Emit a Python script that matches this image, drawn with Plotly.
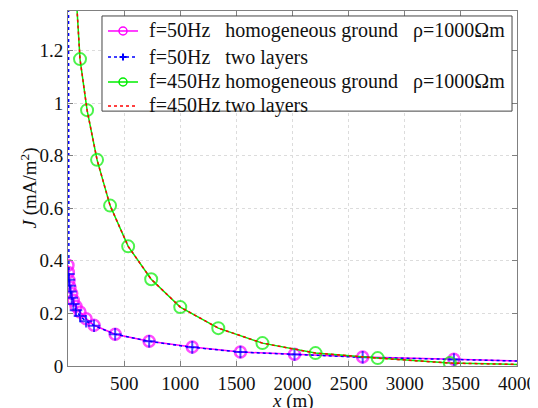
import plotly.graph_objects as go

# 50 Hz, homogeneous ground
x_50_hom = [0, 3, 9, 18, 33, 47, 71, 107, 161, 232, 420, 723, 1107, 1536, 2018, 2625, 3438, 4000]
y_50_hom = [0.383, 0.356, 0.326, 0.300, 0.276, 0.250, 0.227, 0.205, 0.180, 0.155, 0.121, 0.094, 0.072, 0.053, 0.045, 0.034, 0.026, 0.019]

# 50 Hz, two layers
x_50_two = [0, 3, 8, 14, 22, 33, 48, 71, 107, 161, 232, 420, 723, 1107, 1536, 2018, 2625, 3438, 4000]
y_50_two = [3.0, 0.350, 0.328, 0.305, 0.283, 0.260, 0.236, 0.212, 0.190, 0.170, 0.153, 0.121, 0.094, 0.071, 0.053, 0.044, 0.033, 0.025, 0.019]

# 450 Hz, homogeneous ground
x_450_hom = [60, 107, 170, 259, 375, 536, 741, 1000, 1339, 1732, 2205, 2759, 3402, 4000]
y_450_hom = [1.50, 1.167, 0.973, 0.784, 0.610, 0.455, 0.330, 0.224, 0.144, 0.087, 0.049, 0.030, 0.011, 0.006]

# 450 Hz, two layers
x_450_two = [60, 107, 170, 259, 375, 536, 741, 1000, 1339, 1732, 2205, 2759, 3402, 4000]
y_450_two = [1.50, 1.167, 0.973, 0.784, 0.610, 0.455, 0.330, 0.224, 0.144, 0.087, 0.049, 0.030, 0.011, 0.006]

x_ticks = [500, 1000, 1500, 2000, 2500, 3000, 3500, 4000]
y_ticks = [0, 0.2, 0.4, 0.6, 0.8, 1.0, 1.2]
y_tick_text = ["0", "0.2", "0.4", "0.6", "0.8", "1", "1.2"]

names = [
    "f=50Hz\u00a0\u00a0\u00a0homogeneous ground\u00a0\u00a0\u00a0\u03c1=1000\u03a9m",
    "f=50Hz\u00a0\u00a0\u00a0two layers",
    "f=450Hz\u00a0homogeneous ground\u00a0\u00a0\u00a0\u03c1=1000\u03a9m",
    "f=450Hz\u00a0two layers",
]

MAGENTA, BLUE, GREEN, RED = "#FF00FF", "#0000FF", "#00EE00", "#FF0000"
font_family = "Liberation Serif"

def sizes(n, s):
    return [s] * (n - 1) + [0]

fig = go.Figure()
fig.add_trace(go.Scatter(
    x=x_50_hom, y=y_50_hom, name=names[0], mode="lines+markers",
    line=dict(color=MAGENTA, width=1.5),
    marker=dict(symbol="circle-open", size=sizes(len(x_50_hom), 11), color=MAGENTA, line=dict(width=2.5)),
))
fig.add_trace(go.Scatter(
    x=x_50_two, y=y_50_two, name=names[1], mode="lines+markers",
    line=dict(color=BLUE, width=1.5, dash="dot"),
    marker=dict(symbol="cross-thin-open", size=sizes(len(x_50_two), 9), color=BLUE, line=dict(width=2, color=BLUE)),
))
fig.add_trace(go.Scatter(
    x=x_450_hom, y=y_450_hom, name=names[2], mode="lines+markers",
    line=dict(color=GREEN, width=1.5),
    marker=dict(symbol="circle-open", size=sizes(len(x_450_hom), 12), color=GREEN, line=dict(width=2)),
))
fig.add_trace(go.Scatter(
    x=x_450_two, y=y_450_two, name=names[3], mode="lines",
    line=dict(color=RED, width=1.5, dash="dot"),
))

# ---- legend drawn as a boxed key (paper coordinates) ----
shapes = [dict(type="rect", xref="paper", yref="paper", x0=0.0757, x1=0.9889, y0=0.718, y1=0.986,
               line=dict(color="#444444", width=1), fillcolor="white", layer="above")]
annotations = []
row_y = [0.9437, 0.8704, 0.8000, 0.7324]
styles = [
    (MAGENTA, "solid", "circle"),
    (BLUE, "dot", "plus"),
    (GREEN, "solid", "circle"),
    (RED, "dot", None),
]
lx0, lx1, lxm, tx = 0.0891, 0.1559, 0.1225, 0.1759
for (col, dash, mk), ry, nm in zip(styles, row_y, names):
    shapes.append(dict(type="line", xref="paper", yref="paper", x0=lx0, x1=lx1, y0=ry, y1=ry,
                       line=dict(color=col, width=1.5, dash=dash), layer="above"))
    if mk == "circle":
        shapes.append(dict(type="circle", xref="paper", yref="paper", xsizemode="pixel", ysizemode="pixel",
                           xanchor=lxm, yanchor=ry, x0=-4, x1=4, y0=-4, y1=4,
                           line=dict(color=col, width=1.5), fillcolor="rgba(0,0,0,0)", layer="above"))
    elif mk == "plus":
        shapes.append(dict(type="line", xref="paper", yref="paper", xsizemode="pixel", ysizemode="pixel",
                           xanchor=lxm, yanchor=ry, x0=-3.5, x1=3.5, y0=0, y1=0,
                           line=dict(color=col, width=2), layer="above"))
        shapes.append(dict(type="line", xref="paper", yref="paper", xsizemode="pixel", ysizemode="pixel",
                           xanchor=lxm, yanchor=ry, x0=0, x1=0, y0=-3.5, y1=3.5,
                           line=dict(color=col, width=2), layer="above"))
    annotations.append(dict(xref="paper", yref="paper", x=tx, y=ry, xanchor="left", yanchor="middle",
                            text=nm, showarrow=False, font=dict(family=font_family, size=20, color="#111111")))

# axis titles
annotations.append(dict(xref="paper", yref="paper", x=0.5, y=0, yshift=-35, xanchor="center", yanchor="middle",
                        text="<i>x</i> (m)", showarrow=False, font=dict(family=font_family, size=19, color="#111111")))
annotations.append(dict(xref="paper", yref="paper", x=0, y=0.5, xshift=-39, xanchor="center", yanchor="middle",
                        textangle=-90, text="<i>J</i> (mA/m<sup>2</sup>)", showarrow=False,
                        font=dict(family=font_family, size=19, color="#111111")))

fig.update_layout(
    width=530, height=400,
    margin=dict(l=60, r=21, t=3, b=42),
    paper_bgcolor="white", plot_bgcolor="white",
    font=dict(family=font_family, size=19, color="#111111"),
    showlegend=False,
    shapes=shapes, annotations=annotations,
)
fig.update_xaxes(
    range=[0, 4000], tickvals=x_ticks, ticktext=[str(v) for v in x_ticks],
    showline=True, linecolor="#808080", linewidth=1, mirror="ticks",
    ticks="inside", ticklen=5, tickcolor="#808080",
    showgrid=True, gridcolor="#dcdcdc", griddash="dot", gridwidth=1,
    zeroline=False, tickfont=dict(family=font_family, size=19, color="#111111"),
    automargin=False,
)
fig.update_yaxes(
    range=[0, 1.35], tickvals=y_ticks, ticktext=y_tick_text,
    showline=True, linecolor="#808080", linewidth=1, mirror="ticks",
    ticks="inside", ticklen=5, tickcolor="#808080",
    showgrid=True, gridcolor="#dcdcdc", griddash="dot", gridwidth=1,
    zeroline=False, tickfont=dict(family=font_family, size=19, color="#111111"),
    automargin=False,
)

fig.write_html("out.html")
